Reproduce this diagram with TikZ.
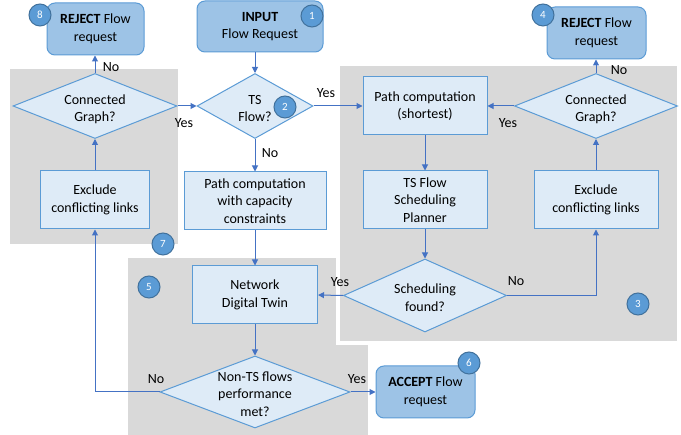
\documentclass[tikz,border=0pt]{standalone}
\usepackage{fontspec}
\setmainfont{Carlito}
\usetikzlibrary{shapes.geometric,arrows.meta}
\definecolor{lbfill}{HTML}{DEEBF7}
\definecolor{lbline}{HTML}{5B9BD5}
\definecolor{dbfill}{HTML}{9DC3E6}
\definecolor{arr}{HTML}{4472C4}
\definecolor{grayb}{HTML}{D9D9D9}
\definecolor{circ}{HTML}{5B9BD5}
\definecolor{circline}{HTML}{41719C}
\newcommand{\fsz}{\fontsize{14}{17.7}\selectfont}
\newcommand{\zt}[1]{\makebox[0pt]{\smash{\raisebox{-7pt}{\begin{tabular}{@{}c@{}}#1\end{tabular}}}}}
\tikzset{
  box/.style={draw=lbline, fill=lbfill, line width=1pt, align=center, inner sep=0pt, font=\fsz},
  dbox/.style={draw=lbline, fill=dbfill, line width=1pt, rounded corners=8pt, align=center, inner sep=0pt, font=\fsz},
  dia/.style={diamond, aspect=1, draw=lbline, fill=lbfill, line width=1pt, inner sep=0pt, font=\fsz},
  num/.style={circle, draw=circline, fill=circ, line width=1pt, minimum size=22pt, inner sep=0pt, text=white, font=\fontsize{11}{12}\selectfont},
  lbl/.style={inner sep=0pt, font=\fsz},
  con/.style={draw=arr, line width=1pt, -{Triangle[length=6pt,width=6pt]}},
}
\begin{document}
\begin{tikzpicture}[x=1pt,y=-1pt]
\useasboundingbox (0,0) rectangle (681,435);
% background areas
\fill[grayb] (10,69) rectangle (178,244);
\fill[grayb] (128,258) rectangle (368,435);
\filldraw[fill=grayb, draw=white, line width=4pt] (338,64) rectangle (679,343);
% terminal boxes
\node[dbox, minimum width=97pt, minimum height=52pt] (rej8) at (95.5,29) {\textbf{REJECT} Flow\\request};
\node[dbox, minimum width=126pt, minimum height=51pt] (input) at (260,26.5) {\textbf{INPUT}\\Flow Request};
\node[dbox, minimum width=99pt, minimum height=52pt] (rej4) at (596.5,33) {\textbf{REJECT} Flow\\request};
\node[dbox, minimum width=99pt, minimum height=52pt] (accept) at (425.5,392) {\textbf{ACCEPT} Flow\\request};
% process boxes
\node[box, minimum width=124pt, minimum height=58pt] (pcs) at (425,106) {Path computation\\(shortest)};
\node[box, minimum width=124pt, minimum height=58pt] (plan) at (425,200) {TS Flow\\Scheduling\\Planner};
\node[box, minimum width=124pt, minimum height=58pt] (exr) at (596,200) {Exclude\\conflicting links};
\node[box, minimum width=109pt, minimum height=58pt] (exl) at (95,200) {Exclude\\conflicting links};
\node[box, minimum width=142pt, minimum height=58pt] (pcc) at (255,201) {Path computation\\with capacity\\constraints};
\node[box, minimum width=125pt, minimum height=58pt] (ndt) at (255,295) {Network\\Digital Twin};
% decisions
\node[dia, minimum width=116pt, minimum height=65pt] (ts) at (255,106) {\zt{TS\\Flow?}};
\node[dia, minimum width=164pt, minimum height=65pt] (cgl) at (95,106) {\zt{Connected\\Graph?}};
\node[dia, minimum width=163pt, minimum height=65pt] (cgr) at (596,106) {\zt{Connected\\Graph?}};
\node[dia, minimum width=163pt, minimum height=73pt] (sf) at (425,295.5) {\zt{Scheduling\\found?}};
\node[dia, minimum width=190pt, minimum height=72pt] (nts) at (255,392) {\zt{Non-TS flows\\performance\\met?}};
% connectors
\draw[con] (ts.north |- input.south) -- (ts.north);
\draw[con] (ts.east) -- (pcs.west);
\draw[con] (ts.south) -- (pcc.north);
\draw[con] (pcc.south) -- (ndt.north);
\draw[con] (pcs.south) -- (plan.north);
\draw[con] (plan.south) -- (sf.north);
\draw[con] (sf.west) -- (ndt.east);
\draw[con] (sf.east) -| (exr.south);
\draw[con] (exr.north) -- (cgr.south);
\draw[con] (cgr.west) -- (pcs.east);
\draw[con] (cgr.north) -- (cgr.north |- rej4.south);
\draw[con] (ndt.south) -- (nts.north);
\draw[con] (nts.east) -- (accept.west);
\draw[con] (nts.west) -| (exl.south);
\draw[con] (exl.north) -- (cgl.south);
\draw[con] (cgl.east) -- (ts.west);
\draw[con] (cgl.north) -- (cgl.north |- rej8.south);
% connector labels
\node[lbl] (l1) at (326,93) {Yes};
\node[lbl] (l2) at (270,153) {No};
\node[lbl] (l3) at (184,123) {Yes};
\node[lbl] (l4) at (111,67) {No};
\node[lbl] (l5) at (619,70) {No};
\node[lbl] (l6) at (508,123) {Yes};
\node[lbl] (l7) at (340,282) {Yes};
\node[lbl] (l8) at (516,281) {No};
\node[lbl] (l9) at (156,379) {No};
\node[lbl] (l10) at (357,379) {Yes};
% step numbers
\node[num] (n1) at (312,16) {1};
\node[num] (n2) at (285,107) {2};
\node[num] (n3) at (638,304) {3};
\node[num] (n4) at (543,15) {4};
\node[num] (n5) at (149,287) {5};
\node[num] (n6) at (469,363) {6};
\node[num] (n7) at (163,244) {7};
\node[num] (n8) at (40,15) {8};
\end{tikzpicture}
\end{document}
